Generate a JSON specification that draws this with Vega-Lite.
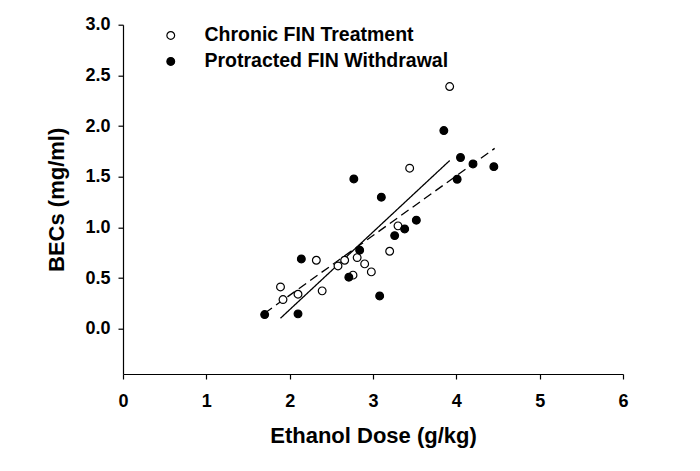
{
  "$schema": "https://vega.github.io/schema/vega-lite/v6.json",
  "autosize": "none",
  "width": 500,
  "height": 349.3,
  "padding": {"left": 123, "top": 24.7, "right": 77, "bottom": 97},
  "background": "white",
  "config": {
    "view": {"stroke": null},
    "axis": {
      "grid": false,
      "labelFlush": false,
      "labelOverlap": false,
      "domainColor": "black",
      "domainWidth": 1.2,
      "tickColor": "black",
      "tickWidth": 1.2,
      "tickSize": 5,
      "labelFont": "Liberation Sans",
      "labelFontWeight": "bold",
      "labelFontSize": 18,
      "labelColor": "black",
      "titleFont": "Liberation Sans",
      "titleFontWeight": "bold",
      "titleFontSize": 22,
      "titleColor": "black"
    },
    "legend": {
      "labelFont": "Liberation Sans",
      "labelFontWeight": "bold",
      "labelFontSize": 19.5,
      "labelColor": "black",
      "labelLimit": 500
    }
  },
  "datasets": {
    "points": [
      {"group": "Chronic FIN Treatment", "dose": 3.92, "bec": 2.39},
      {"group": "Chronic FIN Treatment", "dose": 3.44, "bec": 1.585},
      {"group": "Chronic FIN Treatment", "dose": 3.30, "bec": 1.016},
      {"group": "Chronic FIN Treatment", "dose": 3.20, "bec": 0.766},
      {"group": "Chronic FIN Treatment", "dose": 2.81, "bec": 0.703},
      {"group": "Chronic FIN Treatment", "dose": 2.66, "bec": 0.677},
      {"group": "Chronic FIN Treatment", "dose": 2.58, "bec": 0.621},
      {"group": "Chronic FIN Treatment", "dose": 2.90, "bec": 0.641},
      {"group": "Chronic FIN Treatment", "dose": 2.98, "bec": 0.562},
      {"group": "Chronic FIN Treatment", "dose": 2.76, "bec": 0.53},
      {"group": "Chronic FIN Treatment", "dose": 2.32, "bec": 0.677},
      {"group": "Chronic FIN Treatment", "dose": 2.39, "bec": 0.375},
      {"group": "Chronic FIN Treatment", "dose": 1.89, "bec": 0.414},
      {"group": "Chronic FIN Treatment", "dose": 1.92, "bec": 0.289},
      {"group": "Chronic FIN Treatment", "dose": 2.10, "bec": 0.342},
      {"group": "Protracted FIN Withdrawal", "dose": 3.85, "bec": 1.956},
      {"group": "Protracted FIN Withdrawal", "dose": 4.05, "bec": 1.69},
      {"group": "Protracted FIN Withdrawal", "dose": 4.20, "bec": 1.627},
      {"group": "Protracted FIN Withdrawal", "dose": 4.45, "bec": 1.60},
      {"group": "Protracted FIN Withdrawal", "dose": 4.01, "bec": 1.476},
      {"group": "Protracted FIN Withdrawal", "dose": 2.77, "bec": 1.479},
      {"group": "Protracted FIN Withdrawal", "dose": 3.10, "bec": 1.299},
      {"group": "Protracted FIN Withdrawal", "dose": 3.52, "bec": 1.072},
      {"group": "Protracted FIN Withdrawal", "dose": 3.38, "bec": 0.986},
      {"group": "Protracted FIN Withdrawal", "dose": 3.26, "bec": 0.92},
      {"group": "Protracted FIN Withdrawal", "dose": 2.84, "bec": 0.776},
      {"group": "Protracted FIN Withdrawal", "dose": 2.14, "bec": 0.69},
      {"group": "Protracted FIN Withdrawal", "dose": 2.71, "bec": 0.51},
      {"group": "Protracted FIN Withdrawal", "dose": 3.08, "bec": 0.325},
      {"group": "Protracted FIN Withdrawal", "dose": 1.70, "bec": 0.141},
      {"group": "Protracted FIN Withdrawal", "dose": 2.10, "bec": 0.148}
    ],
    "fits": [
      {"fit": "chronic", "dose": 1.89, "bec": 0.105},
      {"fit": "chronic", "dose": 3.92, "bec": 1.66},
      {"fit": "protracted", "dose": 1.70, "bec": 0.155},
      {"fit": "protracted", "dose": 4.46, "bec": 1.78}
    ]
  },
  "encoding": {
    "x": {
      "field": "dose", "type": "quantitative",
      "scale": {"domain": [0, 6], "nice": false, "zero": false},
      "axis": {"values": [0, 1, 2, 3, 4, 5, 6], "format": "d", "title": "Ethanol Dose (g/kg)", "labelPadding": 13, "titlePadding": 15}
    },
    "y": {
      "field": "bec", "type": "quantitative",
      "scale": {"domain": [-0.445, 3], "nice": false, "zero": false},
      "axis": {"values": [0, 0.5, 1, 1.5, 2, 2.5, 3], "format": ".1f", "title": "BECs (mg/ml)", "labelPadding": 8, "titlePadding": 16}
    }
  },
  "layer": [
    {
      "data": {"name": "fits"},
      "mark": {"type": "line", "color": "black", "strokeWidth": 1.3},
      "encoding": {
        "strokeDash": {
          "field": "fit", "type": "nominal",
          "scale": {"domain": ["chronic", "protracted"], "range": [[1, 0], [9, 5]]},
          "legend": null
        }
      }
    },
    {
      "data": {"name": "points"},
      "mark": {"type": "point", "shape": "circle", "filled": true, "stroke": "black", "strokeWidth": 1.2, "size": 60, "opacity": 1},
      "encoding": {
        "fill": {
          "field": "group", "type": "nominal",
          "scale": {"domain": ["Chronic FIN Treatment", "Protracted FIN Withdrawal"], "range": ["white", "black"]},
          "legend": {
            "title": null,
            "orient": "none",
            "legendX": 38,
            "legendY": 1,
            "padding": 0,
            "symbolType": "circle",
            "symbolSize": 60,
            "symbolStrokeColor": "black",
            "symbolStrokeWidth": 1.2,
            "labelOffset": 24,
            "rowPadding": 5
          }
        }
      }
    }
  ]
}
